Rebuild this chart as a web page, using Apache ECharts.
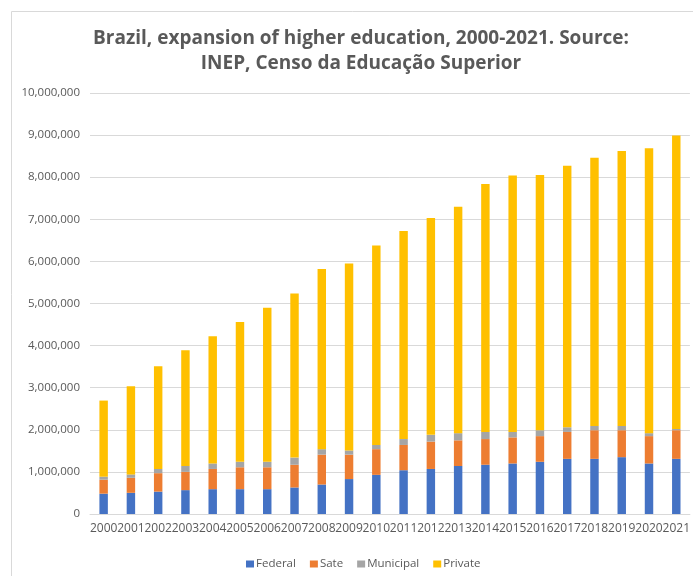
<!DOCTYPE html>
<html>
<head>
<meta charset="utf-8">
<script src="https://cdn.jsdelivr.net/npm/echarts@6/dist/echarts.min.js"></script>
<style>
  html, body { margin: 0; padding: 0; background: #fff; }
  #chart { width: 693px; height: 576px; }
</style>
</head>
<body>
<div id="chart"></div>
<script>
const years = ['2000', '2001', '2002', '2003', '2004', '2005', '2006', '2007', '2008', '2009', '2010',
  '2011', '2012', '2013', '2014', '2015', '2016', '2017', '2018', '2019', '2020', '2021']

// enrolments
const federal = [483000, 503000, 532000, 567000, 590000, 590000, 590000, 630000, 700000, 830000, 930000,
  1040000, 1070000, 1140000, 1170000, 1200000, 1240000, 1310000, 1310000, 1350000, 1200000, 1310000]
const state = [332000, 357000, 438000, 433000, 480000, 520000, 520000, 540000, 710000, 580000, 610000,
  600000, 650000, 610000, 610000, 620000, 610000, 640000, 680000, 640000, 650000, 680000]
const municipal = [71000, 80000, 100000, 140000, 130000, 130000, 130000, 170000, 130000, 100000, 100000,
  140000, 160000, 170000, 170000, 130000, 140000, 110000, 100000, 100000, 70000, 30000]
const privateSector = [1808000, 2096000, 2440000, 2750000, 3020000, 3320000, 3660000, 3900000, 4280000, 4440000, 4740000,
  4940000, 5150000, 5380000, 5890000, 6090000, 6060000, 6210000, 6370000, 6530000, 6770000, 6970000]

const seriesNames = ['Federal', 'Sate', 'Municipal', 'Private']
const yTicks = { min: 0, max: 10000000, interval: 1000000 }

const chart = echarts.init(document.getElementById('chart'))
const font = '"Open Sans", sans-serif'

chart.setOption({
  animation: false,
  color: ['#4472C4', '#ED7D31', '#A5A5A5', '#FFC000'],
  title: {
    text: 'Brazil, expansion of higher education, 2000-2021. Source:\nINEP, Censo da Educação Superior',
    left: 356,
    top: 21,
    textAlign: 'center',
    textStyle: {
      color: '#595959',
      fontFamily: font,
      fontWeight: 'bold',
      fontSize: 19,
      lineHeight: 25
    }
  },
  legend: {
    left: 241,
    top: 553,
    itemWidth: 8,
    itemHeight: 7,
    itemGap: 14,
    icon: 'rect',
    textStyle: { color: '#595959', fontFamily: font, fontSize: 11.5, padding: [0, 0, 0, -3] },
    data: seriesNames
  },
  grid: { left: 90, right: 3, top: 93, bottom: 62 },
  xAxis: {
    type: 'category',
    data: years,
    axisTick: { show: false },
    axisLine: { lineStyle: { color: '#d9d9d9' } },
    axisLabel: { color: '#595959', fontFamily: font, fontSize: 12, margin: 9, interval: 0 }
  },
  yAxis: {
    type: 'value',
    min: yTicks.min,
    max: yTicks.max,
    interval: yTicks.interval,
    axisLine: { show: false },
    axisTick: { show: false },
    splitLine: { lineStyle: { color: '#d9d9d9' } },
    axisLabel: {
      color: '#595959',
      fontFamily: font,
      fontSize: 11.5,
      margin: 10,
      formatter: v => v.toLocaleString('en-US')
    }
  },
  graphic: [{
    type: 'rect',
    shape: { x: 11.5, y: 11.5, width: 700, height: 600 },
    style: { fill: 'none', stroke: '#d9d9d9', lineWidth: 1 },
    silent: true
  }],
  series: [federal, state, municipal, privateSector].map((data, i) => ({
    name: seriesNames[i],
    type: 'bar',
    stack: 'total',
    barWidth: '31%',
    data
  }))
})
</script>
</body>
</html>
